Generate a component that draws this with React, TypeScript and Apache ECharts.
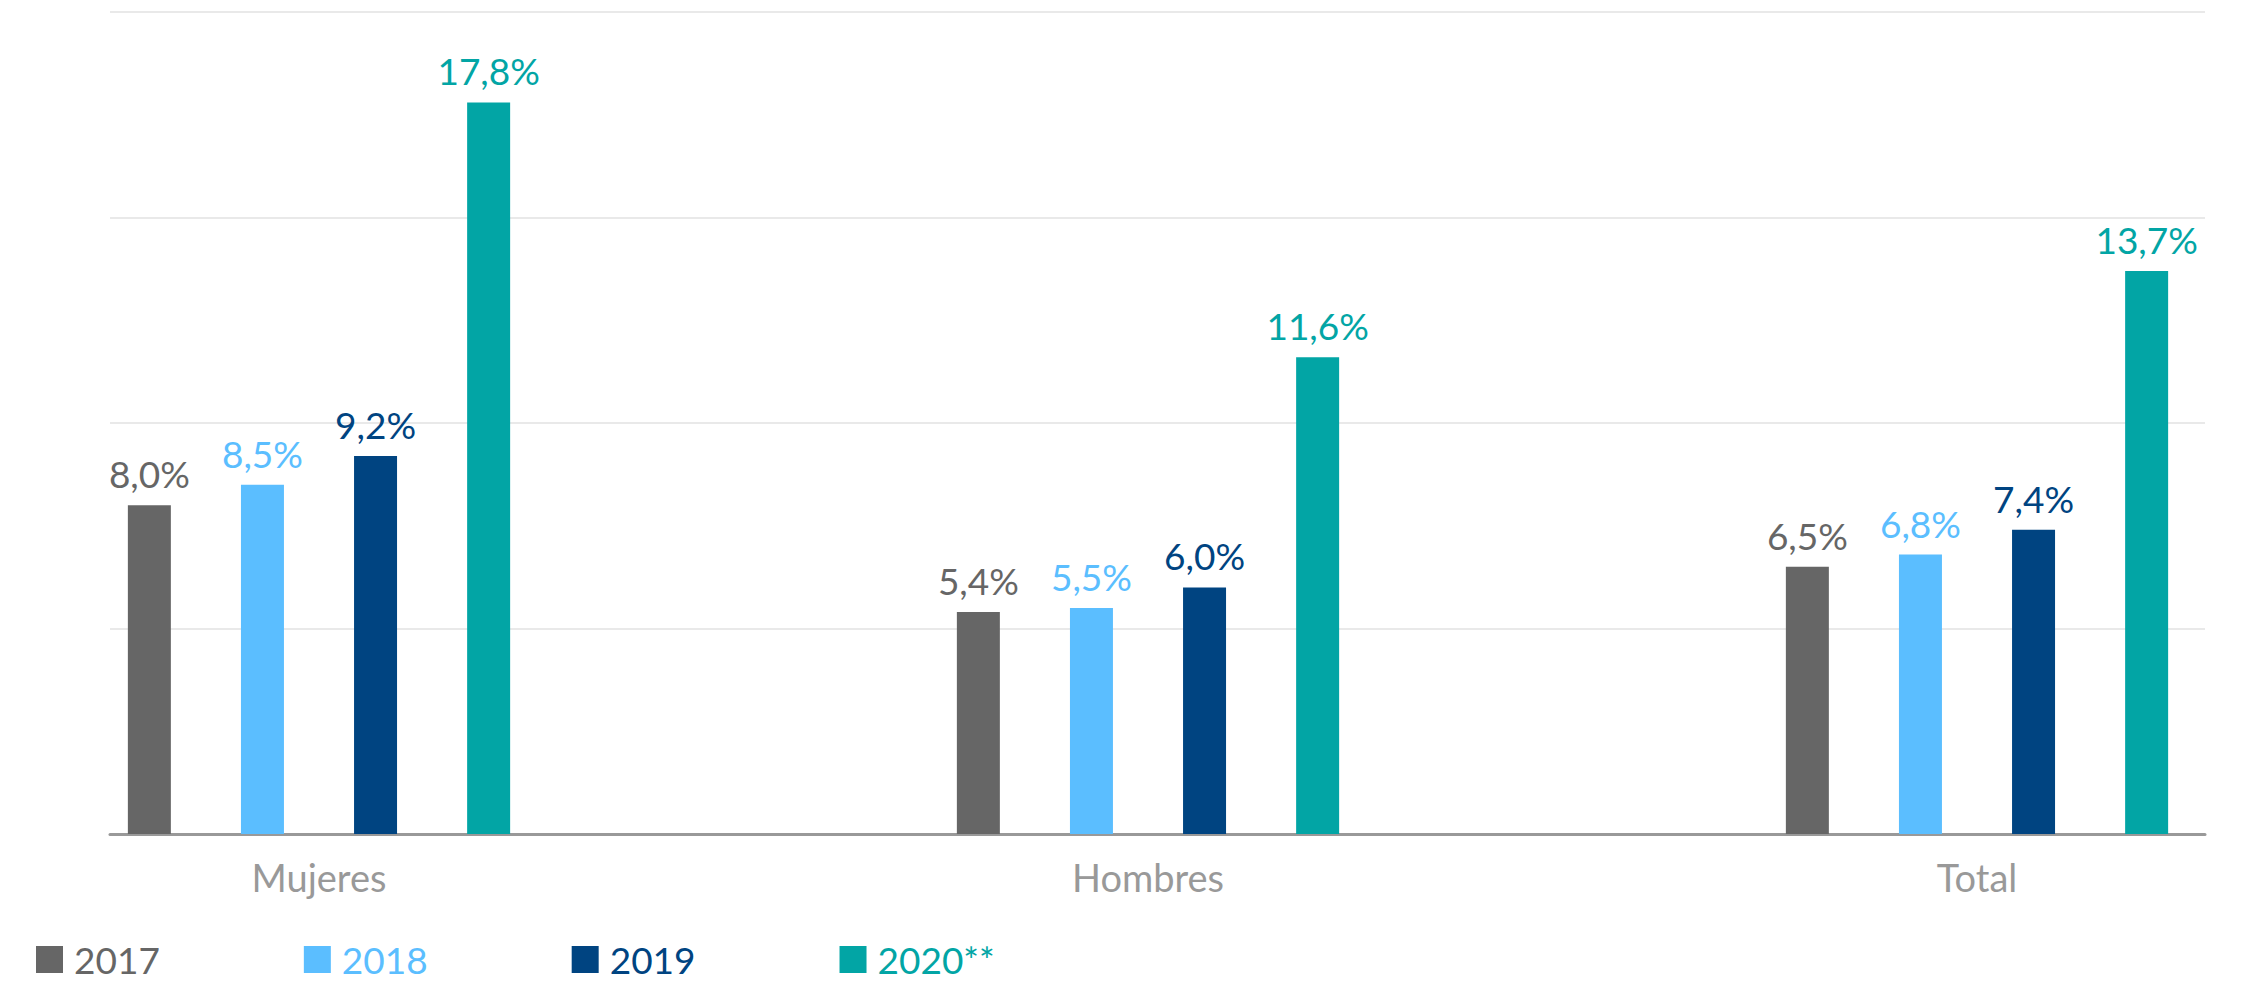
import React, { useEffect, useRef } from "react";
import * as echarts from "echarts";

const categories = ["Mujeres", "Hombres", "Total"];
const years = ["2017", "2018", "2019", "2020**"];
const colors = ["#666666", "#5BBEFF", "#004481", "#02A5A5"];
const values2017 = [8.0, 5.4, 6.5];
const values2018 = [8.5, 5.5, 6.8];
const values2019 = [9.2, 6.0, 7.4];
const values2020 = [17.8, 11.6, 13.7];
const seriesValues = [values2017, values2018, values2019, values2020];
const yMax = 20;
const yInterval = 5;

const FONT = "Lato, 'Open Sans', sans-serif";

export default function App() {
  const ref = useRef<HTMLDivElement>(null);
  useEffect(() => {
    document.body.style.margin = "0";
    const chart = echarts.init(ref.current!, undefined, { renderer: "svg" });
    const fmt = (v: number) => v.toFixed(1).replace(".", ",") + "%";
    chart.setOption({
      animation: false,
      backgroundColor: "#ffffff",
      textStyle: { fontFamily: FONT },
      legend: {
        left: 31,
        bottom: 1,
        itemWidth: 27,
        itemHeight: 27,
        itemGap: 144,
        icon: "rect",
        selectedMode: false,
        textStyle: {
          fontSize: 37,
          lineHeight: 30,
          fontFamily: FONT,
          fontWeight: 400,
          padding: [0, 0, 0, 6],
        },
        data: years.map((y, i) => ({ name: y, textStyle: { color: colors[i] } })),
      },
      grid: [
        { left: 110, right: 36, top: 12, bottom: 150 },
        { left: 319, right: 264, top: 12, bottom: 150 },
      ],
      xAxis: [
        {
          type: "category",
          gridIndex: 0,
          data: categories,
          axisLine: { show: true, lineStyle: { color: "#999999", width: 3 } },
          axisTick: { show: false },
          axisLabel: { show: false },
          splitLine: { show: false },
        },
        {
          type: "category",
          gridIndex: 1,
          data: categories,
          boundaryGap: false,
          axisLine: { show: false },
          axisTick: { show: false },
          splitLine: { show: false },
          axisLabel: {
            color: "#999999",
            fontSize: 38,
            fontFamily: FONT,
            fontWeight: 400,
            margin: 24,
          },
        },
      ],
      yAxis: [
        {
          type: "value",
          gridIndex: 0,
          min: 0,
          max: yMax,
          interval: yInterval,
          axisLine: { show: false },
          axisTick: { show: false },
          axisLabel: { show: false },
          splitLine: { show: true, lineStyle: { color: "#E9E9E9", width: 2 } },
        },
        {
          type: "value",
          gridIndex: 1,
          min: 0,
          max: yMax,
          interval: yInterval,
          axisLine: { show: false },
          axisTick: { show: false },
          axisLabel: { show: false },
          splitLine: { show: false },
        },
      ],
      series: years.map((y, i) => ({
        name: y,
        type: "bar",
        xAxisIndex: 1,
        yAxisIndex: 1,
        clip: false,
        barWidth: 43,
        barGap: "163%",
        itemStyle: { color: colors[i] },
        data: seriesValues[i],
        label: {
          show: true,
          position: "top",
          distance: 13,
          color: colors[i],
          fontSize: 37,
          fontFamily: FONT,
          fontWeight: 400,
          formatter: (p: any) => fmt(p.value),
        },
      })),
    });
    return () => chart.dispose();
  }, []);
  return (
    <div
      ref={ref}
      style={{ position: "fixed", left: 0, top: 0, width: 2241, height: 984 }}
    />
  );
}
